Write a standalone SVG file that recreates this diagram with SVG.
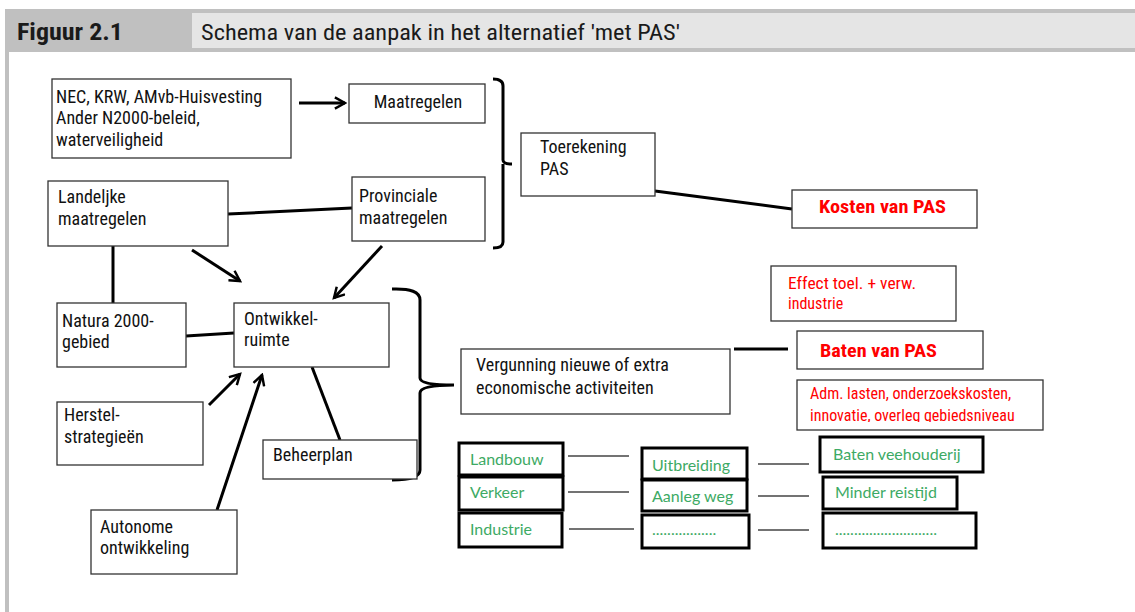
<svg xmlns="http://www.w3.org/2000/svg" width="1135" height="612" viewBox="0 0 1135 612">
<defs>
<style>
.box{fill:#fff;stroke:#333;stroke-width:1.3}
.gbox{fill:#fff;stroke:#000;stroke-width:3}
.t{font-family:"Liberation Sans Narrow","Roboto Condensed","DejaVu Sans Condensed",sans-serif;font-size:18px;fill:#111}
.r{font-family:"Liberation Sans Narrow","Roboto Condensed","DejaVu Sans Condensed",sans-serif;font-size:16px;fill:#f00}
.rb{font-family:"Liberation Sans Narrow","Roboto Condensed",sans-serif;font-size:18px;font-weight:bold;fill:#f00}
.g{font-family:Lato,"Open Sans",sans-serif;font-size:16px;fill:#3daa64}
.c{fill:none;stroke:#000;stroke-width:3}
.thin{fill:none;stroke:#444;stroke-width:1.4}
</style>
<marker id="ah" viewBox="0 0 12 12" refX="10" refY="6" markerWidth="4.5" markerHeight="4.5" orient="auto" markerUnits="strokeWidth">
<path d="M1,1 L10,6 L1,11" fill="none" stroke="#000" stroke-width="2.2"/>
</marker>
<clipPath id="admclip"><rect x="797" y="378" width="246" height="44"/></clipPath>
</defs>
<rect width="1135" height="612" fill="#fff"/>
<g id="header">
<rect x="5" y="9" width="1130" height="43" fill="#c0c0c0"/>
<rect x="192" y="13" width="943" height="35" fill="#e5e5e5"/>
<rect x="5" y="52" width="4" height="560" fill="#c0c0c0"/>
<text x="17" y="40" textLength="106" lengthAdjust="spacingAndGlyphs" style="font-family:'Liberation Sans Narrow','Roboto Condensed',sans-serif;font-size:23px;font-weight:bold;fill:#1a1a1a">Figuur 2.1</text>
<text x="201" y="40" textLength="479" lengthAdjust="spacingAndGlyphs" style="font-family:'Liberation Sans Narrow','Roboto Condensed',sans-serif;font-size:22px;fill:#1a1a1a">Schema van de aanpak in het alternatief 'met PAS'</text>
</g>
<g id="connectors">
<line class="c" x1="299" y1="103" x2="345" y2="103" marker-end="url(#ah)"/>
<line class="c" x1="228" y1="214" x2="352" y2="208"/>
<path class="c" d="M493,79 Q503,79 503,86 L503,160 Q503,164 512,164 M503,164 L503,242 Q503,248 493,248"/>
<line class="c" x1="655" y1="191" x2="792" y2="209"/>
<line class="c" x1="113" y1="246" x2="113" y2="303"/>
<line class="c" x1="192" y1="250" x2="240" y2="281" marker-end="url(#ah)"/>
<line class="c" x1="382" y1="246" x2="334" y2="298" marker-end="url(#ah)"/>
<line class="c" x1="186" y1="336" x2="234" y2="333"/>
<line class="c" x1="209" y1="405" x2="240" y2="374" marker-end="url(#ah)"/>
<line class="c" x1="217" y1="510" x2="262" y2="375" marker-end="url(#ah)"/>
<line class="c" x1="312" y1="367" x2="340" y2="440"/>
<path class="c" d="M392,289 Q420,288 420,300 L420,378 Q420,385 454,385 Q420,385 420,393 L420,470 Q420,480 392,480"/>
<line class="c" x1="734" y1="349" x2="788" y2="349"/>
<line class="thin" x1="568" y1="456" x2="629" y2="456"/>
<line class="thin" x1="568" y1="492" x2="629" y2="492"/>
<line class="thin" x1="569" y1="529" x2="634" y2="529"/>
<line class="thin" x1="758" y1="464" x2="809" y2="464"/>
<line class="thin" x1="758" y1="496" x2="809" y2="496"/>
<line class="thin" x1="758" y1="530" x2="809" y2="530"/>
</g>
<g id="nec"><rect class="box" x="52" y="79" width="239" height="79"/>
<text class="t" x="56" y="103">NEC, KRW, AMvb-Huisvesting</text>
<text class="t" x="56" y="124">Ander N2000-beleid,</text>
<text class="t" x="56" y="146">waterveiligheid</text></g>
<g id="maatregelen"><rect class="box" x="349" y="84" width="136" height="39"/>
<text class="t" x="418" y="108" text-anchor="middle">Maatregelen</text></g>
<g id="landelijke"><rect class="box" x="48" y="181" width="180" height="65"/>
<text class="t" x="58" y="203">Landeljke</text>
<text class="t" x="58" y="225">maatregelen</text></g>
<g id="provinciale"><rect class="box" x="352" y="177" width="133" height="64"/>
<text class="t" x="359" y="202">Provinciale</text>
<text class="t" x="359" y="224">maatregelen</text></g>
<g id="toerekening"><rect class="box" x="521" y="133" width="134" height="63"/>
<text class="t" x="540" y="153">Toerekening</text>
<text class="t" x="540" y="175">PAS</text></g>
<g id="kosten"><rect class="box" x="792" y="190" width="185" height="38"/>
<text class="rb" x="819" y="213" textLength="127" lengthAdjust="spacingAndGlyphs">Kosten van PAS</text></g>
<g id="natura"><rect class="box" x="57" y="303" width="129" height="64"/>
<text class="t" x="62" y="327">Natura 2000-</text>
<text class="t" x="62" y="348">gebied</text></g>
<g id="ontwikkel"><rect class="box" x="234" y="303" width="155" height="64"/>
<text class="t" x="244" y="325">Ontwikkel-</text>
<text class="t" x="244" y="346">ruimte</text></g>
<g id="herstel"><rect class="box" x="57" y="402" width="146" height="63"/>
<text class="t" x="64" y="421">Herstel-</text>
<text class="t" x="64" y="443">strategieën</text></g>
<g id="beheerplan"><rect class="box" x="263" y="440" width="154" height="39"/>
<text class="t" x="273" y="461">Beheerplan</text></g>
<g id="autonome"><rect class="box" x="91" y="510" width="146" height="64"/>
<text class="t" x="100" y="533">Autonome</text>
<text class="t" x="100" y="554">ontwikkeling</text></g>
<g id="vergunning"><rect class="box" x="461" y="349" width="269" height="65"/>
<text class="t" x="476" y="371">Vergunning nieuwe of extra</text>
<text class="t" x="476" y="394">economische activiteiten</text></g>
<g id="effect"><rect class="box" x="771" y="266" width="185" height="55"/>
<text class="r" x="788" y="289" textLength="128" lengthAdjust="spacingAndGlyphs">Effect toel. + verw.</text>
<text class="r" x="788" y="309">industrie</text></g>
<g id="baten"><rect class="box" x="797" y="331" width="186" height="38"/>
<text class="rb" x="820" y="357" textLength="117" lengthAdjust="spacingAndGlyphs">Baten van PAS</text></g>
<g id="adm"><rect class="box" x="797" y="380" width="246" height="50"/>
<g clip-path="url(#admclip)"><text class="r" x="810" y="399">Adm. lasten, onderzoekskosten,</text>
<text class="r" x="810" y="421">innovatie, overleg gebiedsniveau</text></g></g>
<g id="landbouw"><rect class="gbox" x="459" y="443" width="104" height="32"/><text class="g" x="470" y="465">Landbouw</text></g>
<g id="verkeer"><rect class="gbox" x="459" y="477" width="104" height="33"/><text class="g" x="470" y="498">Verkeer</text></g>
<g id="industrie"><rect class="gbox" x="459" y="513" width="103" height="34"/><text class="g" x="470" y="535">Industrie</text></g>
<g id="uitbreiding"><rect class="gbox" x="642" y="448" width="105" height="31"/><text class="g" x="652" y="471">Uitbreiding</text></g>
<g id="aanleg"><rect class="gbox" x="642" y="480" width="105" height="31"/><text class="g" x="652" y="502">Aanleg weg</text></g>
<g id="dots1"><rect class="gbox" x="642" y="515" width="107" height="33"/><text class="g" x="652" y="535">.................</text></g>
<g id="veehouderij"><rect class="gbox" x="820" y="437" width="163" height="35"/><text class="g" x="833" y="460">Baten veehouderij</text></g>
<g id="reistijd"><rect class="gbox" x="823" y="477" width="134" height="32"/><text class="g" x="835" y="498">Minder reistijd</text></g>
<g id="dots2"><rect class="gbox" x="823" y="513" width="153" height="35"/><text class="g" x="835" y="535">...........................</text></g>
</svg>
